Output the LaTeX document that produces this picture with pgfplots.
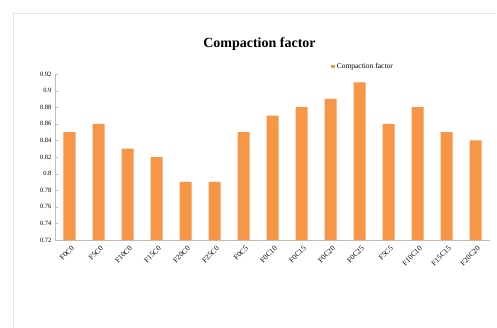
\documentclass[border=0pt]{standalone}
\usepackage{pgfplots}
\pgfplotsset{compat=1.18}
\usepackage{fontspec}
\setmainfont{Liberation Serif}
\definecolor{barorange}{RGB}{247,150,70}
\definecolor{axisgray}{RGB}{190,190,190}
\definecolor{framegray}{RGB}{225,225,225}
\begin{document}
\begin{tikzpicture}[x=1pt,y=1pt]
\useasboundingbox (-55,-87) rectangle (442,240);
% chart area frame
\draw[framegray, line width=0.8pt] (-42,-95) -- (-42,227) -- (441,227);
\begin{axis}[
  at={(0,0)}, anchor=south west,
  scale only axis,
  width=435pt, height=166pt,
  ymin=0.72, ymax=0.92,
  ytick={0.72,0.74,...,0.921},
  xmin=-0.5, xmax=14.5,
  xtick={0,...,14},
  minor xtick={-0.5,0.5,...,14.6},
  xticklabels={F0C0,F5C0,F10C0,F15C0,F20C0,F25C0,F0C5,F0C10,F0C15,F0C20,F0C25,F5C5,F10C10,F15C15,F20C20},
  x tick label style={rotate=45, anchor=north east, font=\fontsize{7.5}{8}\selectfont, inner sep=1pt, yshift=-2pt},
  y tick label style={font=\fontsize{6.5}{7}\selectfont},
  /pgf/number format/assume math mode=true,
  yticklabel style={/pgf/number format/.cd, fixed, precision=2},
  axis x line*=bottom, axis y line*=left,
  axis line style={axisgray},
  x axis line style={-}, y axis line style={-},
  major tick length=2.5pt, minor tick length=2.5pt,
  xtick style={draw=none},
  minor x tick style={axisgray},
  ytick style={axisgray},
  tick pos=left,
  ybar, bar width=12pt,
  title={\bfseries Compaction factor},
  title style={font=\fontsize{14}{16}\selectfont, at={(0.47,1.0)}, anchor=south, yshift=14pt},
  legend style={at={(0.635,1.08)}, anchor=north west, draw=none, fill=none,
    font=\fontsize{7.5}{8}\selectfont, inner sep=0pt},
  legend image code/.code={\fill[barorange] (0pt,-1.7pt) rectangle (3.4pt,1.7pt);},
]
\addplot[fill=barorange, draw=none] coordinates {
  (0,0.85) (1,0.86) (2,0.83) (3,0.82) (4,0.79) (5,0.79) (6,0.85) (7,0.87)
  (8,0.88) (9,0.89) (10,0.91) (11,0.86) (12,0.88) (13,0.85) (14,0.84)};
\addlegendentry{Compaction factor}
\end{axis}
\end{tikzpicture}
\end{document}
